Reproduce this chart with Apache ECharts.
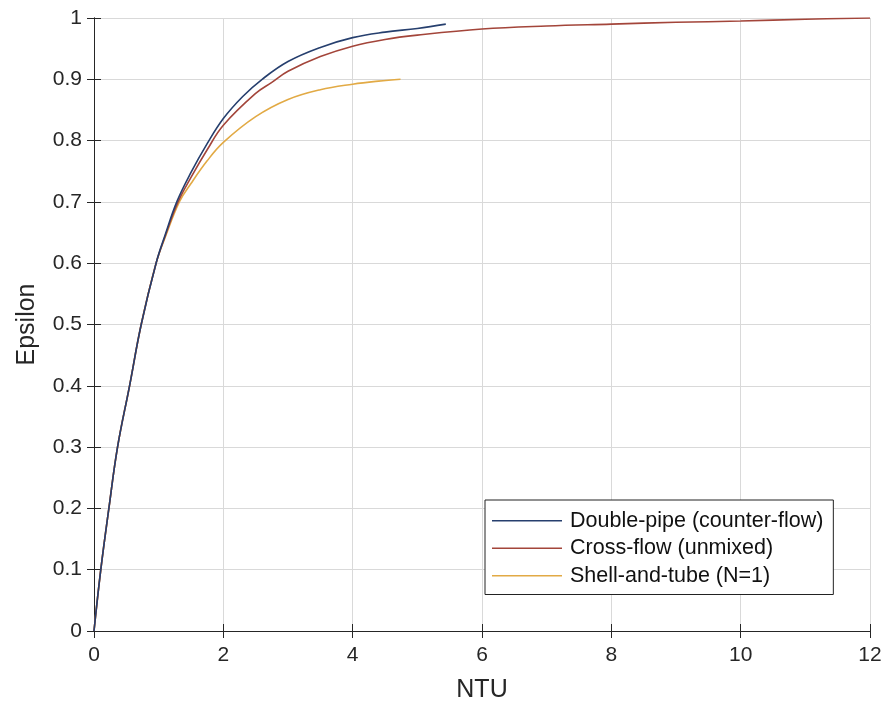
<!DOCTYPE html>
<html>
<head>
<meta charset="utf-8">
<script src="https://cdn.jsdelivr.net/npm/echarts@6/dist/echarts.min.js"></script>
<style>
html,body{margin:0;padding:0;background:#fff;}
#chart{width:889px;height:704px;}
</style>
</head>
<body>
<div id="chart"></div>
<script>
// Series names
const seriesNames = ['Double-pipe (counter-flow)', 'Cross-flow (unmixed)', 'Shell-and-tube (N=1)'];

// Double-pipe (counter-flow)
const ntuDouble = [0, 0.105, 0.23, 0.364, 0.55, 0.73, 0.96, 1.1, 1.28, 1.5, 1.75, 2.0, 2.3, 2.6, 3.0, 3.5, 4.0, 4.5, 5.0, 5.44];
const epsDouble = [0, 0.1, 0.2, 0.3, 0.4, 0.5, 0.6, 0.646, 0.70, 0.748, 0.795, 0.836, 0.872, 0.90, 0.929, 0.952, 0.968, 0.977, 0.983, 0.99];

// Cross-flow (unmixed)
const ntuCross = [0, 0.105, 0.23, 0.364, 0.55, 0.73, 0.96, 1.1, 1.30, 1.5, 1.75, 2.0, 2.5, 2.75, 3.0, 3.5, 4.0, 4.5, 5.0, 6.0, 7.0, 8.0, 9.0, 10.0, 11.0, 12.0];
const epsCross = [0, 0.1, 0.2, 0.3, 0.4, 0.5, 0.6, 0.644, 0.70, 0.74, 0.785, 0.825, 0.877, 0.895, 0.913, 0.937, 0.954, 0.965, 0.972, 0.982, 0.987, 0.990, 0.993, 0.995, 0.998, 1.0];

// Shell-and-tube (N=1)
const ntuShell = [0, 0.105, 0.23, 0.364, 0.55, 0.73, 0.96, 1.1, 1.32, 1.5, 1.75, 2.0, 2.5, 3.0, 3.5, 4.0, 4.4, 4.74];
const epsShell = [0, 0.1, 0.2, 0.3, 0.4, 0.5, 0.6, 0.642, 0.70, 0.73, 0.767, 0.797, 0.839, 0.867, 0.883, 0.892, 0.897, 0.90];

// Axis ticks
const xTicks = { min: 0, max: 12, interval: 2 };
const yTicks = { min: 0, max: 1, interval: 0.1 };

const colors = ['#263f6e', '#a3453a', '#e2aa45'];
const font = '"Liberation Sans", Arial, Helvetica, sans-serif';

function pairs(xs, ys) { return xs.map((x, i) => [x, ys[i]]); }
const dataSets = [pairs(ntuDouble, epsDouble), pairs(ntuCross, epsCross), pairs(ntuShell, epsShell)];

const chart = echarts.init(document.getElementById('chart'), null, { renderer: 'canvas' });

const axisLineStyle = { show: true, lineStyle: { color: '#262626', width: 1 } };
const tickStyle = { show: true, inside: true, length: 7, lineStyle: { color: '#262626', width: 1 } };

const option = {
  backgroundColor: '#ffffff',
  animation: false,
  grid: { left: 94, right: 19, top: 18, bottom: 73, containLabel: false, outerBoundsMode: 'none' },
  legend: {
    orient: 'vertical',
    left: 485,
    top: 500,
    data: seriesNames,
    icon: 'rect',
    itemWidth: 70,
    itemHeight: 1.5,
    itemGap: 4,
    padding: [9, 10, 7, 7],
    borderColor: '#222',
    borderWidth: 1,
    backgroundColor: '#fff',
    textStyle: { fontFamily: font, fontSize: 21.5, lineHeight: 23.5, color: '#111', padding: [0, 0, 0, 3] }
  },
  xAxis: [
    {
      type: 'value', position: 'bottom', min: xTicks.min, max: xTicks.max, interval: xTicks.interval,
      name: 'NTU', nameLocation: 'middle', nameGap: 47,
      nameTextStyle: { fontFamily: font, fontSize: 25, color: '#262626' },
      axisLine: axisLineStyle, axisTick: tickStyle,
      axisLabel: { fontFamily: font, fontSize: 21, color: '#262626', margin: 14 },
      splitLine: { show: true, lineStyle: { color: '#d9d9d9', width: 1 } }
    },
    {
      type: 'value', position: 'top', min: xTicks.min, max: xTicks.max, interval: xTicks.interval,
      axisLine: axisLineStyle, axisTick: tickStyle, axisLabel: { show: false }, splitLine: { show: false }
    }
  ],
  yAxis: [
    {
      type: 'value', position: 'left', min: yTicks.min, max: yTicks.max, interval: yTicks.interval,
      name: 'Epsilon', nameLocation: 'middle', nameGap: 54,
      nameTextStyle: { fontFamily: font, fontSize: 25, color: '#262626' },
      axisLine: axisLineStyle, axisTick: tickStyle,
      axisLabel: { fontFamily: font, fontSize: 21, color: '#262626', margin: 12,
        formatter: v => (Math.round(v * 10) / 10).toString() },
      splitLine: { show: true, lineStyle: { color: '#d9d9d9', width: 1 } }
    },
    {
      type: 'value', position: 'right', min: yTicks.min, max: yTicks.max, interval: yTicks.interval,
      axisLine: axisLineStyle, axisTick: tickStyle, axisLabel: { show: false }, splitLine: { show: false }
    }
  ],
  series: seriesNames.map((name, i) => ({
    name: name,
    type: 'line',
    xAxisIndex: 0,
    yAxisIndex: 0,
    data: dataSets[i],
    showSymbol: false,
    symbol: 'none',
    smooth: 0.4,
    z: 10 - i,
    lineStyle: { color: colors[i], width: 1.6 },
    itemStyle: { color: colors[i] }
  }))
};

chart.setOption(option);
</script>
</body>
</html>
